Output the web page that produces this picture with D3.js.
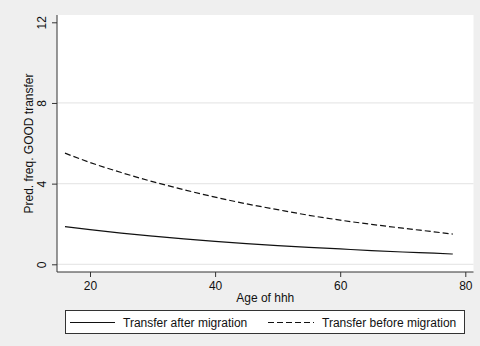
<!DOCTYPE html>
<html>
<head>
<meta charset="utf-8">
<script src="https://cdn.jsdelivr.net/npm/d3@7"></script>
<style>
  html, body { margin: 0; padding: 0; background: #efefef; }
  svg { display: block; }
  text { font-family: "Liberation Sans", Arial, sans-serif; fill: #111; }
</style>
</head>
<body>
<svg id="chart" width="480" height="346"></svg>
<script>
// Predicted frequency of GOOD transfers by age of household head
const ages = [16, 20, 25, 30, 35, 40, 45, 50, 55, 60, 65, 70, 75, 78];
const afterMigration  = [1.87, 1.72, 1.55, 1.40, 1.26, 1.14, 1.03, 0.93, 0.84, 0.76, 0.68, 0.61, 0.55, 0.51];
const beforeMigration = [5.51, 5.05, 4.55, 4.10, 3.70, 3.33, 3.00, 2.71, 2.43, 2.19, 1.98, 1.79, 1.61, 1.50];
const xTicks = [20, 40, 60, 80];
const yTicks = [0, 4, 8, 12];
const seriesNames = ["Transfer after migration", "Transfer before migration"];
const xTitle = "Age of hhh";
const yTitle = "Pred. freq. GOOD transfer";

const svg = d3.select("#chart");
const W = 480, H = 346;

// plot region
const plot = { left: 57, right: 473.5, top: 15, bottom: 272 };

svg.append("rect").attr("width", W).attr("height", H).attr("fill", "#efefef");
svg.append("rect")
  .attr("x", plot.left).attr("y", plot.top)
  .attr("width", plot.right - plot.left).attr("height", plot.bottom - plot.top)
  .attr("fill", "#ffffff");

const x = d3.scaleLinear().domain([20, 80]).range([90, 465.3]);
const y = d3.scaleLinear().domain([0, 12]).range([264.3, 22.3]);

// horizontal grid lines
svg.append("g").selectAll("line")
  .data(yTicks.filter(t => t < 12))
  .join("line")
  .attr("x1", plot.left).attr("x2", plot.right)
  .attr("y1", d => y(d)).attr("y2", d => y(d))
  .attr("stroke", "#e8e8e8").attr("stroke-width", 1.3);

// y axis, labels turned vertical like the axis title
const yAxis = d3.axisLeft(y).tickValues(yTicks).tickSize(5).tickFormat(d3.format("d"));
const gy = svg.append("g").attr("transform", `translate(${plot.left},0)`).call(yAxis);
gy.select(".domain").remove();
gy.selectAll(".tick line").attr("stroke", "#333");
gy.selectAll(".tick text")
  .attr("font-size", 12)
  .attr("transform", "rotate(-90)")
  .attr("x", 0).attr("y", -11).attr("dy", "0em")
  .attr("text-anchor", "middle");
svg.append("line")
  .attr("x1", plot.left).attr("x2", plot.left)
  .attr("y1", plot.top).attr("y2", plot.bottom)
  .attr("stroke", "#333").attr("stroke-width", 1);

// x axis
const xAxis = d3.axisBottom(x).tickValues(xTicks).tickSize(5).tickPadding(4).tickFormat(d3.format("d"));
const gx = svg.append("g").attr("transform", `translate(0,${plot.bottom})`).call(xAxis);
gx.select(".domain").remove();
gx.selectAll(".tick line").attr("stroke", "#333");
gx.selectAll(".tick text").attr("font-size", 12).attr("fill", "#111");
svg.append("line")
  .attr("x1", plot.left).attr("x2", plot.right)
  .attr("y1", plot.bottom).attr("y2", plot.bottom)
  .attr("stroke", "#333").attr("stroke-width", 1);

// axis titles
svg.append("text")
  .attr("x", (plot.left + plot.right) / 2).attr("y", 302)
  .attr("text-anchor", "middle").attr("font-size", 12)
  .text(xTitle);
svg.append("text")
  .attr("transform", `translate(33, ${(plot.top + plot.bottom) / 2}) rotate(-90)`)
  .attr("text-anchor", "middle").attr("font-size", 12)
  .text(yTitle);

// curves
const line = d3.line().x(d => x(d[0])).y(d => y(d[1])).curve(d3.curveMonotoneX);
const series = [
  { name: seriesNames[0], values: afterMigration, dash: null },
  { name: seriesNames[1], values: beforeMigration, dash: "6,3" }
];
series.forEach(s => {
  svg.append("path")
    .datum(ages.map((a, i) => [a, s.values[i]]))
    .attr("d", line)
    .attr("fill", "none")
    .attr("stroke", "#111")
    .attr("stroke-width", 1.2)
    .attr("stroke-dasharray", s.dash);
});

// legend
const leg = svg.append("g");
leg.append("rect")
  .attr("x", 65.5).attr("y", 310.5).attr("width", 399).attr("height", 23)
  .attr("fill", "#ffffff").attr("stroke", "#333").attr("stroke-width", 1);
const legendItems = [
  { x0: 70, x1: 115, tx: 123 },
  { x0: 268, x1: 314, tx: 322 }
];
series.forEach((s, i) => {
  const it = legendItems[i];
  leg.append("line")
    .attr("x1", it.x0).attr("x2", it.x1).attr("y1", 322.5).attr("y2", 322.5)
    .attr("stroke", "#111").attr("stroke-width", 1.2)
    .attr("stroke-dasharray", s.dash);
  leg.append("text")
    .attr("x", it.tx).attr("y", 327).attr("font-size", 12)
    .text(s.name);
});
</script>
</body>
</html>
